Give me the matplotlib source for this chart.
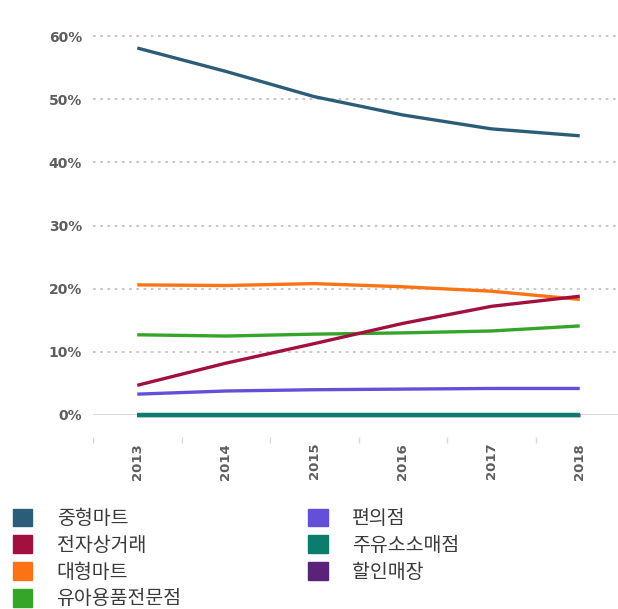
import matplotlib
matplotlib.use("Agg")
import matplotlib.pyplot as plt
from matplotlib.patches import Patch
import matplotlib.ticker as ticker

# data (share of sales, %)
years = ["2013", "2014", "2015", "2016", "2017", "2018"]
mid_mart = [58.1, 54.4, 50.4, 47.5, 45.3, 44.2]
ecommerce = [4.7, 8.2, 11.3, 14.5, 17.2, 18.8]
big_mart = [20.6, 20.5, 20.8, 20.3, 19.6, 18.3]
baby_store = [12.7, 12.5, 12.8, 13.0, 13.3, 14.1]
convenience = [3.3, 3.8, 4.0, 4.1, 4.2, 4.2]
gas_station = [0.0, 0.0, 0.0, 0.0, 0.0, 0.0]
discount = [0.0, 0.0, 0.0, 0.0, 0.0, 0.0]

names = ["중형마트", "전자상거래", "대형마트", "유아용품전문점", "편의점", "주유소소매점", "할인매장"]
colors = ["#2c5d78", "#a3103f", "#fb7314", "#35a52a", "#6450d8", "#0b7c6e", "#5a2278"]

plt.rcParams['font.family'] = ['Noto Sans CJK KR', 'DejaVu Sans']

fig = plt.figure(figsize=(6.18, 6.09), dpi=100)
# axes: left edge x=93px, 0% at y=415px, 60% at y=36px
ax = fig.add_axes([93 / 618, (609 - 415) / 609, 531 / 618, (415 - 36) / 609])

xs = list(range(len(years)))
series = [mid_mart, ecommerce, big_mart, baby_store, convenience, gas_station, discount]
widths = [2.4, 2.4, 2.4, 2.4, 2.4, 3.2, 2.4]
# draw discount first so gas station line sits on top
order = [6, 5, 4, 3, 2, 0, 1]
for i in order:
    ax.plot(xs, series[i], color=colors[i], lw=widths[i], solid_capstyle='butt',
            zorder=3, clip_on=False)

ax.set_xlim(-0.5, 5.5)
ax.set_ylim(0, 60)

# grid
for v in [10, 20, 30, 40, 50, 60]:
    ax.axhline(v, color="#c4c4c4", lw=1.3, ls=(0, (1.5, 2.5)), zorder=1, clip_on=False)
ax.axhline(0, color="#d2d2d2", lw=1.2, zorder=1)

for s in ax.spines.values():
    s.set_visible(False)
ax.spines['bottom'].set_position(('outward', 16))

ax.yaxis.set_major_locator(ticker.MultipleLocator(10))
ax.yaxis.set_major_formatter(ticker.FuncFormatter(lambda v, p: f"{v:.0f}%"))
ax.tick_params(axis='y', length=0, pad=8, labelsize=10, labelcolor="#5e5e5e")
for t in ax.get_yticklabels():
    t.set_fontweight("bold")
    t.set_family("DejaVu Sans")

ax.set_xticks(xs)
ax.set_xticklabels(years, rotation=90, fontsize=9.5, color="#5e5e5e",
                   fontweight="bold", family="DejaVu Sans")
ax.set_xticks([x + 0.5 for x in [-1] + xs[:-1]], minor=True)
ax.tick_params(axis='x', which='major', length=0, pad=4)
ax.tick_params(axis='x', which='minor', length=4, color="#d8d8d8", width=1)

handles = [Patch(facecolor=c, edgecolor=c) for c in colors]
fig.legend(handles, names, ncol=2, loc="upper left", bbox_to_anchor=(13 / 618, 1 - 508 / 609),
           frameon=False, fontsize=14, handlelength=1.0, handleheight=1.0,
           handletextpad=1.24, columnspacing=6.5, labelspacing=0.3,
           borderaxespad=0, borderpad=0, labelcolor="#3a3a3a")

fig.savefig("out.png", dpi=100)
